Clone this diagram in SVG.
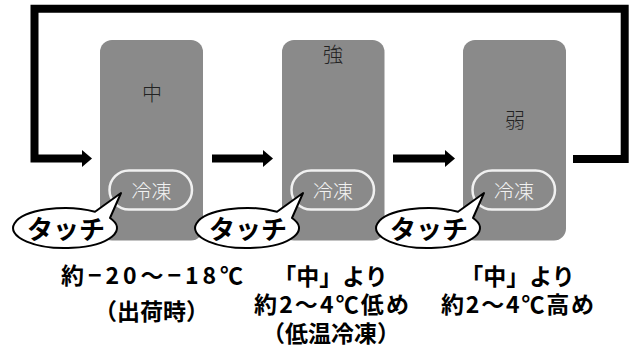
<svg xmlns="http://www.w3.org/2000/svg" width="634" height="349" viewBox="0 0 634 349">
<style>
  .panel { fill: #8a8a8a; }
  .pill { fill: none; stroke: #f0f0f0; stroke-width: 2.5; }
  .plbl { font-family: "Noto Sans CJK JP", "Noto Sans", sans-serif; font-size: 20px; fill: #f2f2f2; font-weight: 300; text-anchor: middle; }
  .mode { font-family: "Noto Sans CJK JP", "Noto Sans", sans-serif; font-size: 20px; fill: #222; font-weight: 300; text-anchor: middle; }
  .bubble { fill: #fff; stroke: #000; stroke-width: 2; stroke-linejoin: round; }
  .touch { font-family: "Noto Sans CJK JP", "Noto Sans", sans-serif; font-size: 26px; fill: #000; font-weight: 700; text-anchor: middle; }
  .note { font-family: "Noto Sans CJK JP", "Noto Sans", sans-serif; font-size: 23px; fill: #000; font-weight: 700; text-anchor: middle; }
  .line { fill: none; stroke: #000; stroke-width: 8; stroke-linejoin: miter; }
  .head { fill: #000; }
</style>

<g id="connectors">
  <path class="line" d="M573,159 H624.7 V8.8 H34.5 V158.5 H83"/>
  <polygon class="head" points="82,150 92,158.5 82,167"/>
  <path class="line" d="M212,158.5 H264"/>
  <polygon class="head" points="263,150 273,158.5 263,167"/>
  <path class="line" d="M393,158.5 H446"/>
  <polygon class="head" points="445,150 455,158.5 445,167"/>
</g>

<g id="node-medium">
  <rect class="panel" x="100" y="40" width="103" height="200.5" rx="12"/>
  <text class="mode" x="152" y="101">中</text>
  <rect class="pill" x="109.5" y="170.5" width="82.5" height="39" rx="19.5"/>
  <text class="plbl" x="151.5" y="199">冷凍</text>
</g>

<g id="node-strong">
  <rect class="panel" x="282" y="40" width="102.5" height="200.5" rx="12"/>
  <text class="mode" x="333" y="62">強</text>
  <rect class="pill" x="291.5" y="170.5" width="82.5" height="39" rx="19.5"/>
  <text class="plbl" x="333" y="199">冷凍</text>
</g>

<g id="node-weak">
  <rect class="panel" x="463" y="40" width="103" height="200.5" rx="12"/>
  <text class="mode" x="515" y="128">弱</text>
  <rect class="pill" x="472.5" y="170.5" width="82.5" height="39" rx="19.5"/>
  <text class="plbl" x="514" y="199">冷凍</text>
</g>

<g id="bubble-1">
  <path class="bubble" d="M95,211.7 L121,193 L110,218 A52,20 0 1 1 95,211.7 Z"/>
  <text class="touch" x="66" y="239">タッチ</text>
</g>
<g id="bubble-2">
  <path class="bubble" d="M277,211.7 L303,193 L292,218 A52,20 0 1 1 277,211.7 Z"/>
  <text class="touch" x="248" y="239">タッチ</text>
</g>
<g id="bubble-3">
  <path class="bubble" d="M458,211.7 L484,193 L473,218 A52,20 0 1 1 458,211.7 Z"/>
  <text class="touch" x="429" y="239">タッチ</text>
</g>

<g id="notes">
  <text class="note" x="152" y="284" textLength="182" lengthAdjust="spacing">約−20〜−18℃</text>
  <text class="note" x="151.5" y="319.5">（出荷時）</text>
  <text class="note" x="330.5" y="284.5">「中」より</text>
  <text class="note" x="331.5" y="312.5" textLength="155" lengthAdjust="spacing">約2〜4℃低め</text>
  <text class="note" x="331" y="342">（低温冷凍）</text>
  <text class="note" x="517.5" y="284.5">「中」より</text>
  <text class="note" x="517.5" y="312.5" textLength="153" lengthAdjust="spacing">約2〜4℃高め</text>
</g>
</svg>
